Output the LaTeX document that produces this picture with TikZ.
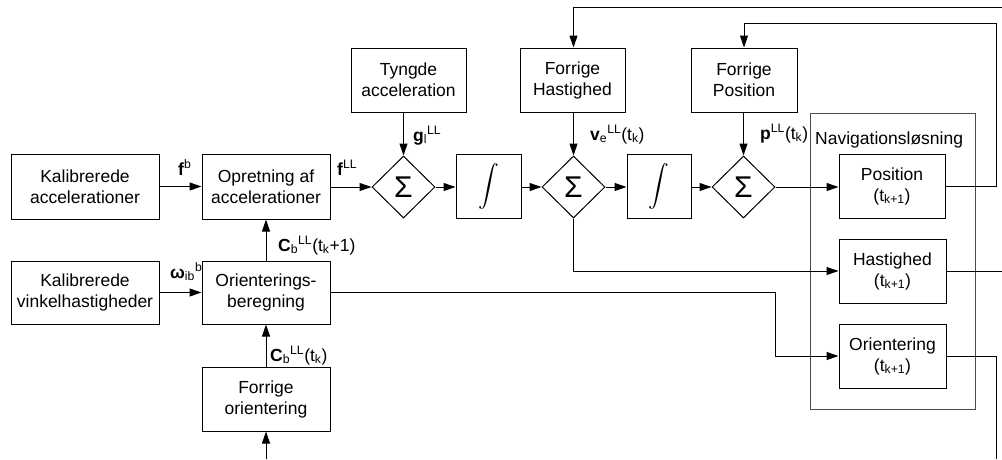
\documentclass[tikz,border=0pt]{standalone}
\usepackage{fontspec}
\setmainfont{Liberation Sans}
\usetikzlibrary{arrows.meta,shapes.geometric}

% tall integral sign (display glyph of cmex) for the integrator blocks
\newcommand{\bigintsign}{\resizebox*{!}{46pt}{$\mathchar"135A$}}

\tikzset{
  txt/.style={font=\fontsize{17.5}{21}\selectfont},
  blk/.style={txt, draw, line width=1pt, rectangle, inner sep=0pt, align=center},
  sumnode/.style={draw, line width=1pt, diamond, inner sep=0pt,
    minimum width=63pt, minimum height=62pt, font=\fontsize{30}{30}\selectfont},
  intbox/.style={draw, line width=1pt, rectangle, inner sep=0pt,
    minimum width=65pt, minimum height=64pt},
  lbl/.style={txt, inner sep=0pt, anchor=base west},
  conn/.style={line width=1pt},
  arr/.style={conn, -{Triangle[length=12pt,width=8pt]}},
  grouping/.style={draw=black!70, line width=1pt, rectangle, inner sep=0pt}
}

\begin{document}
\begin{tikzpicture}[x=1pt,y=-1pt]
\useasboundingbox (0,0) rectangle (1002,459);

% solution group
\node[grouping, minimum width=165pt, minimum height=296pt] (nav) at (892.5,261) {};
\node[txt, anchor=west, inner sep=0pt] (navlbl) at (815,140) {Navigationsløsning};

% input blocks
\node[blk, minimum width=148pt, minimum height=65pt] (kalacc) at (85,186.5) {Kalibrerede\\accelerationer};
\node[blk, minimum width=148pt, minimum height=63pt] (kalvink) at (85,292.5) {Kalibrerede\\vinkelhastigheder};
\node[blk, minimum width=128pt, minimum height=65pt] (opret) at (266,186.5) {Opretning af\\accelerationer};
\node[blk, minimum width=128pt, minimum height=63pt] (orient) at (266,292.5) {Orienterings-\\beregning};
\node[blk, minimum width=128pt, minimum height=64pt] (forori) at (266,399) {Forrige\\orientering};

% upper row
\node[blk, minimum width=115pt, minimum height=64pt] (tyngde) at (408.5,80) {Tyngde\\acceleration};
\node[blk, minimum width=105pt, minimum height=64pt] (forhast) at (572.5,80) {Forrige\\Hastighed};
\node[blk, minimum width=106pt, minimum height=64pt] (forpos) at (744,80) {Forrige\\Position};

% integration chain
\node[sumnode] (sum1) at (403.5,187) {Σ};
\node[intbox] (int1) at (488.5,186) {\bigintsign};
\node[sumnode] (sum2) at (573.5,187) {Σ};
\node[intbox, minimum width=64pt] (int2) at (659,186) {\bigintsign};
\node[sumnode] (sum3) at (743.5,187) {Σ};

% outputs
\node[blk, minimum width=106pt, minimum height=64pt] (pos) at (892,186) {Position\\(t\textsubscript{k+1})};
\node[blk, minimum width=107pt, minimum height=64pt] (hast) at (892.5,271) {Hastighed\\(t\textsubscript{k+1})};
\node[blk, minimum width=107pt, minimum height=64pt] (orient2) at (892.5,356) {Orientering\\(t\textsubscript{k+1})};

% free ends at the border
\coordinate (oriIn) at (266,459);
\coordinate (topR) at (1002,7);
\coordinate (hastOut) at (1002,271);
\coordinate (posFb) at (996,23);
\coordinate (oriOut) at (996,459);

% connectors
\draw[arr] (kalacc.east) -- (opret.west);
\draw[arr] (kalvink.east) -- (orient.west);
\draw[arr] (forori.north) -- (orient.south);
\draw[arr] (oriIn) -- (forori.south);
\draw[arr] (orient.north) -- (opret.south);
\draw[arr] (opret.east |- sum1.west) -- (sum1.west);
\draw[arr] (tyngde.south -| sum1.north) -- (sum1.north);
\draw[arr] (sum1.east) -- (sum1.east -| int1.west);
\draw[arr] (int1.east |- sum2.west) -- (sum2.west);
\draw[arr] (forhast.south -| sum2.north) -- (sum2.north);
\draw[arr] (sum2.east) -- (sum2.east -| int2.west);
\draw[arr] (int2.east |- sum3.west) -- (sum3.west);
\draw[arr] (forpos.south -| sum3.north) -- (sum3.north);
\draw[arr] (sum3.east) -- (sum3.east -| pos.west);
\draw[arr] (sum2.south) |- (hast.west);
\draw[arr] (orient.east) -- (orient.east -| sum3.east) |- (orient2.west);
\draw[arr] (pos.east) -| (posFb) -| (forpos.north);
\draw[arr] (topR) -| (forhast.north -| sum2.north);
\draw[conn] (hast.east) -- (hastOut);
\draw[conn] (orient2.east) -| (oriOut);

% signal labels
\node[lbl] (lfb) at (178,175) {\textbf{f}\textsuperscript{b}};
\node[lbl] (lfll) at (337,175) {\textbf{f}\textsuperscript{LL}};
\node[lbl] (lc1) at (278,251) {\textbf{C}\textsubscript{b}\textsuperscript{LL}(t\textsubscript{k}+1)};
\node[lbl] (lw) at (170,278) {\textbf{ω}\textsubscript{ib}\textsuperscript{b}};
\node[lbl] (lc0) at (270,361) {\textbf{C}\textsubscript{b}\textsuperscript{LL}(t\textsubscript{k})};
\node[lbl] (lg) at (413,141) {\textbf{g}\textsubscript{l}\textsuperscript{LL}};
\node[lbl] (lv) at (590,140) {\textbf{v}\textsubscript{e}\textsuperscript{LL}(t\textsubscript{k})};
\node[lbl] (lp) at (760,139) {\textbf{p}\textsuperscript{LL}(t\textsubscript{k})};
\end{tikzpicture}
\end{document}
